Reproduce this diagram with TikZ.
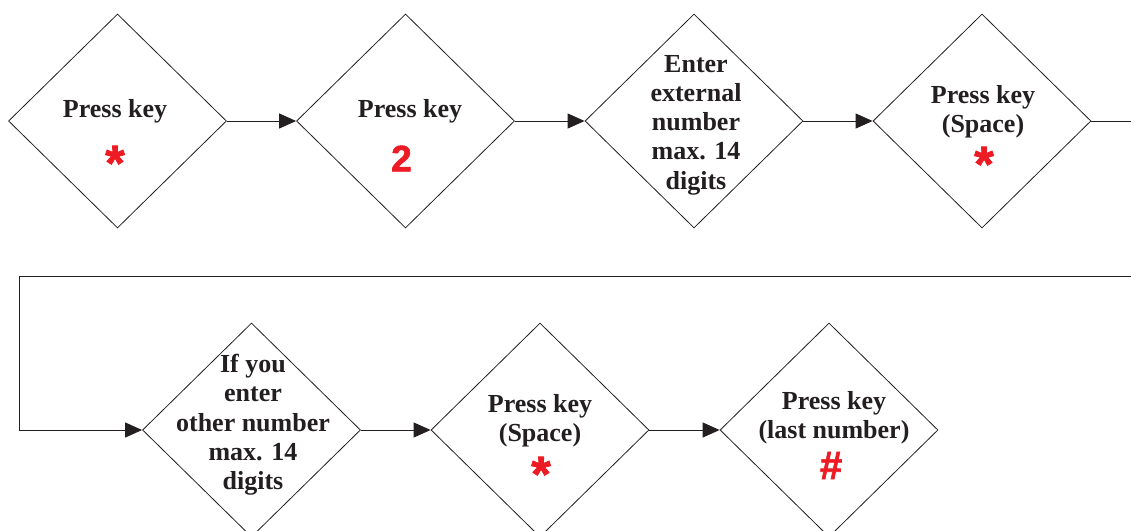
\documentclass[tikz,border=0pt]{standalone}
\usepackage{fontspec}
\setmainfont{Liberation Serif}
\newfontfamily\symfont{Liberation Sans}[BoldFeatures={FakeBold=1.6}]
\usetikzlibrary{shapes.geometric,arrows.meta}
\definecolor{ink}{HTML}{231F20}
\definecolor{keyred}{HTML}{ED1C24}
\tikzset{
  dia/.style={shape=diamond, draw=ink, line width=0.8pt, minimum width=218pt, minimum height=214pt, inner sep=0pt},
  txt/.style={align=center, text=ink, font=\fontsize{26}{29.3}\selectfont\bfseries, inner sep=0pt},
  sym/.style={text=keyred, font=\symfont\bfseries\fontsize{50}{50}\selectfont, inner sep=0pt},
  digit/.style={text=keyred, font=\symfont\bfseries\fontsize{37}{37}\selectfont, inner sep=0pt},
  hash/.style={text=keyred, font=\symfont\bfseries\fontsize{40}{40}\selectfont, inner sep=0pt},
  conn/.style={draw=ink, line width=1pt, -{Triangle[length=17pt,width=15pt]}}
}
\begin{document}
\begin{tikzpicture}[x=1pt,y=-1pt]
\useasboundingbox (0,0) rectangle (1131,530);
\clip (0,0) rectangle (1131,530);
\fill[white] (0,0) rectangle (1131,530);
% row 1
\node[dia] (d1) at (117.5,121) {};
\node[dia] (d2) at (405.5,121) {};
\node[dia] (d3) at (694,121) {};
\node[dia] (d4) at (982,121) {};
% row 2
\node[dia] (d5) at (251.5,430) {};
\node[dia] (d6) at (540,430) {};
\node[dia] (d7) at (829,430) {};
% texts
\node[txt] (t1) at (115,111) {Press key};
\node[sym] (s1) at (115,163) {*};
\node[txt] (t2) at (410,111) {Press key};
\node[digit] (s2) at (401.5,158.5) {2};
\node[txt] (t3) at (696,125) {Enter\\external\\number\\max. 14\\digits};
\node[txt] (t4) at (983,112) {Press key\\(Space)};
\node[sym] (s4) at (984,164) {*};
\node[txt] (t5) at (253,425) {If you\\enter\\other number\\max. 14\\digits};
\node[txt] (t6) at (540,421) {Press key\\(Space)};
\node[sym] (s6) at (541,474) {*};
\node[txt] (t7) at (834,418) {Press key\\(last number)};
\node[hash] (s7) at (831,465.5) {\#};
% connectors
\draw[conn] (d1.east) -- (d2.west);
\draw[conn] (d2.east) -- (d3.west);
\draw[conn] (d3.east) -- (d4.west);
\coordinate (r1) at (1140,121);
\coordinate (r2) at (1140,276);
\coordinate (l1) at (19,276);
\draw[conn] (d4.east) -- (r1) -- (r2) -- (l1) -- (l1 |- d5.west) -- (d5.west);
\draw[conn] (d5.east) -- (d6.west);
\draw[conn] (d6.east) -- (d7.west);
\end{tikzpicture}
\end{document}
